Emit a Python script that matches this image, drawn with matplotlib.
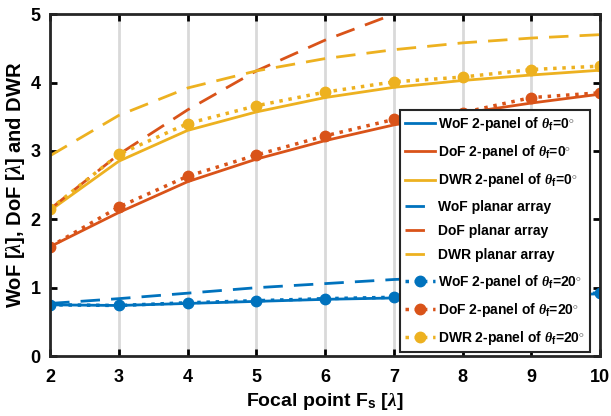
import matplotlib.pyplot as plt

plt.rcParams['font.family'] = ['Liberation Sans', 'DejaVu Sans']
plt.rcParams['font.weight'] = 'bold'
plt.rcParams['mathtext.fontset'] = 'custom'
plt.rcParams['mathtext.rm'] = 'Liberation Sans:bold'
plt.rcParams['mathtext.bf'] = 'Liberation Sans:bold'
plt.rcParams['mathtext.it'] = 'Liberation Serif:italic'

# focal point positions
fs = [2, 3, 4, 5, 6, 7, 8, 9, 10]

# 2-panel, theta_f = 0
wof_0 = [0.75, 0.74, 0.77, 0.80, 0.83, 0.85, 0.87, 0.89, 0.91]
dof_0 = [1.60, 2.10, 2.55, 2.88, 3.15, 3.38, 3.55, 3.70, 3.83]
dwr_0 = [2.13, 2.85, 3.30, 3.57, 3.78, 3.93, 4.03, 4.11, 4.18]

# planar array
wof_p = [0.77, 0.84, 0.92, 1.00, 1.06, 1.12, 1.16, 1.20, 1.24]
dof_p = [2.15, 2.95, 3.60, 4.17, 4.62, 5.00, 5.40, 5.75, 6.10]
dwr_p = [2.93, 3.52, 3.92, 4.17, 4.35, 4.48, 4.58, 4.65, 4.70]

# 2-panel, theta_f = 20
wof_20 = [0.75, 0.74, 0.78, 0.81, 0.84, 0.86, 0.88, 0.90, 0.92]
dof_20 = [1.60, 2.18, 2.63, 2.94, 3.22, 3.46, 3.56, 3.78, 3.85]
dwr_20 = [2.15, 2.95, 3.40, 3.66, 3.86, 4.01, 4.08, 4.19, 4.24]

c_blue = '#0072BD'
c_red = '#D95319'
c_yel = '#EDB120'

fig = plt.figure(figsize=(6.11, 4.16), dpi=100)
ax = fig.add_axes([0.082, 0.144, 0.9, 0.822])

lw = 2.0
th0 = r'$\theta_{\mathbf{f}}$=0$^{\circ}$'
th20 = r'$\theta_{\mathbf{f}}$=20$^{\circ}$'

ax.plot(fs, wof_0, '-', color=c_blue, lw=lw, label='WoF 2-panel of ' + th0)
ax.plot(fs, dof_0, '-', color=c_red, lw=lw, label='DoF 2-panel of ' + th0)
ax.plot(fs, dwr_0, '-', color=c_yel, lw=lw, label='DWR 2-panel of ' + th0)
ax.plot(fs, wof_p, '--', color=c_blue, lw=lw, dashes=(7, 4), label='WoF planar array')
ax.plot(fs, dof_p, '--', color=c_red, lw=lw, dashes=(7, 4), label='DoF planar array')
ax.plot(fs, dwr_p, '--', color=c_yel, lw=lw, dashes=(7, 4), label='DWR planar array')
ax.plot(fs, wof_20, ':', color=c_blue, lw=2.5, marker='o', ms=7.5, label='WoF 2-panel of ' + th20)
ax.plot(fs, dof_20, ':', color=c_red, lw=2.5, marker='o', ms=7.5, label='DoF 2-panel of ' + th20)
ax.plot(fs, dwr_20, ':', color=c_yel, lw=2.5, marker='o', ms=7.5, label='DWR 2-panel of ' + th20)

ax.set_xlim(2, 10)
ax.set_ylim(0, 5)
ax.set_xticks(fs)
ax.set_yticks([0, 1, 2, 3, 4, 5])
ax.xaxis.grid(True, color='#d9d9d9', lw=2)
ax.set_axisbelow(True)
ax.tick_params(direction='in', length=5, width=2, labelsize=13, top=True, right=True)
ax.tick_params(axis='x', pad=9)
ax.tick_params(axis='y', pad=7)
for s in ax.spines.values():
    s.set_linewidth(2)
    s.set_color('#262626')
for t in ax.get_xticklabels() + ax.get_yticklabels():
    t.set_fontweight('bold')

ax.set_xlabel(r'Focal point F$_\mathrm{s}$ [$\lambda$]', fontsize=14, fontweight='bold', labelpad=4)
ax.set_ylabel(r'WoF [$\lambda$], DoF [$\lambda$] and DWR', fontsize=14.5, fontweight='bold', labelpad=2)

leg = ax.legend(loc='lower right', bbox_to_anchor=(0.982, 0.012), fontsize=10,
                handlelength=2.2, labelspacing=0.74, borderaxespad=0, fancybox=False,
                framealpha=1, edgecolor='#262626', handletextpad=0.2, borderpad=0.35)
leg.get_frame().set_linewidth(1.5)
for t in leg.get_texts():
    t.set_fontweight('bold')

plt.savefig('out.png', dpi=100)
